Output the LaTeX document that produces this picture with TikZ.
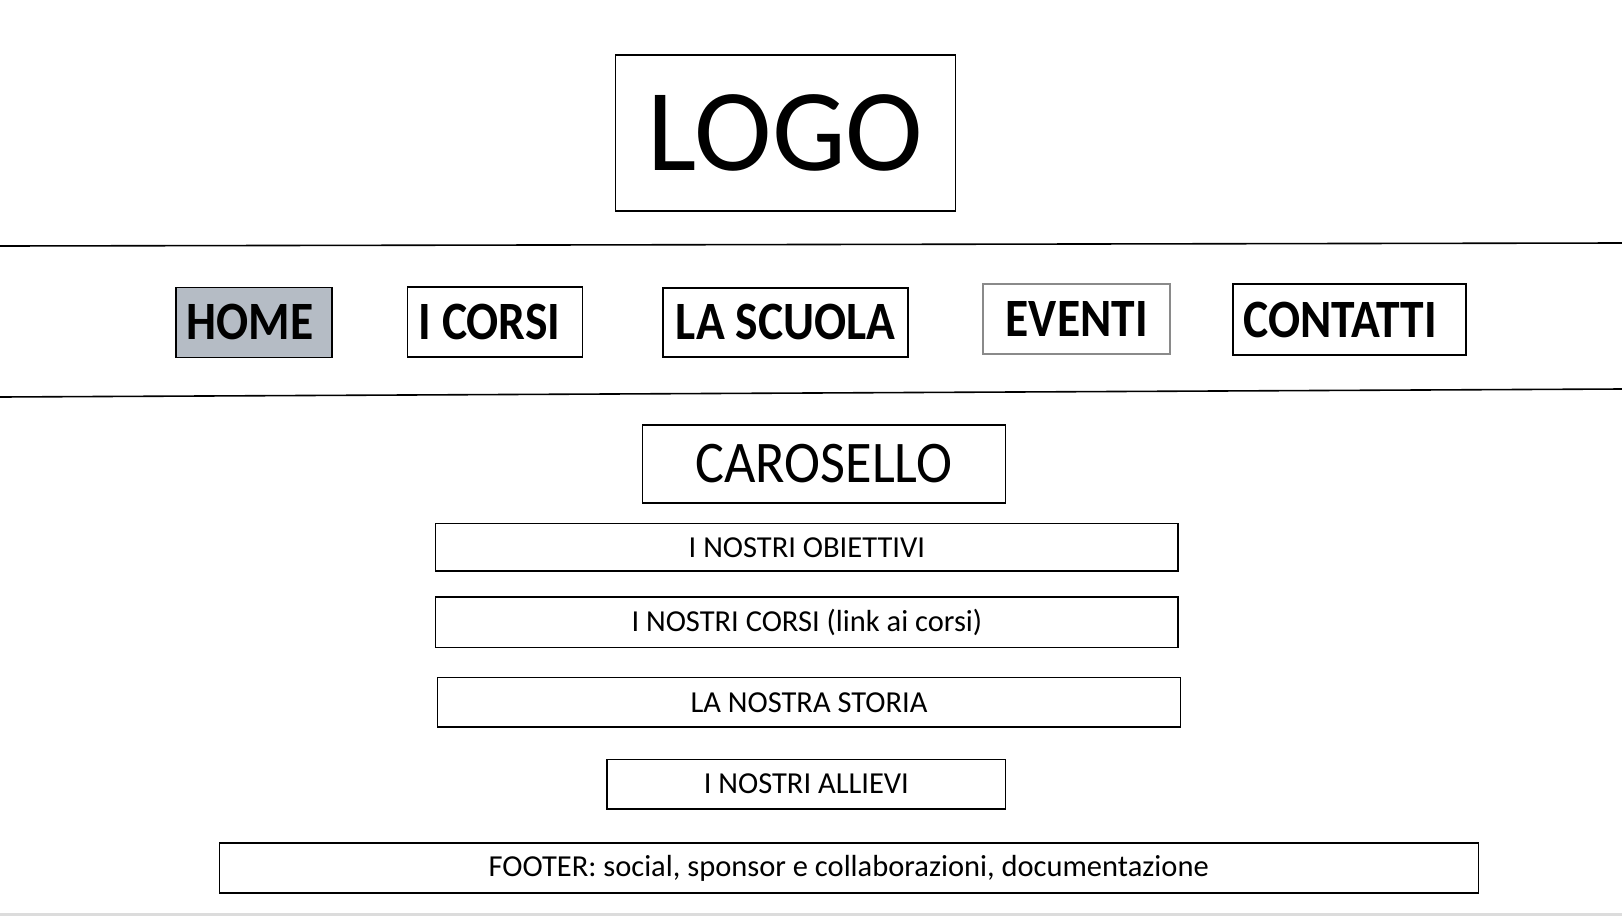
\documentclass[tikz,border=0pt]{standalone}
\usepackage{fontspec}
\setmainfont{Carlito}
\newfontfamily\navfont[FakeStretch=0.88]{Carlito}
\newfontfamily\carofont[FakeStretch=0.92]{Carlito}
\definecolor{homefill}{HTML}{B5BCC5}
\definecolor{evgray}{HTML}{8A8A8A}
\definecolor{strip}{HTML}{DCDCDC}
\begin{document}
\begin{tikzpicture}[x=1pt,y=-1pt,
  box/.style={draw=black, line width=1.6pt, inner sep=0pt, anchor=center, align=center},
  navtext/.style={font=\navfont\fontsize{54}{60}\selectfont\bfseries},
  smalltext/.style={font=\fontsize{30.5}{34}\selectfont}]
\useasboundingbox[fill=white] (0,0) rectangle (1622,916);
\fill[strip] (0,913) rectangle (1622,916);
% header lines
\coordinate (t1) at (0,246); \coordinate (t2) at (1622,243);
\coordinate (b1) at (0,397); \coordinate (b2) at (1622,389);
\draw[line width=1.6pt] (t1) -- (t2);
\draw[line width=1.6pt] (b1) -- (b2);
% logo
\node[box, minimum width=340pt, minimum height=156pt, font=\fontsize{117}{120}\selectfont] (logo) at (785.6,133) {LOGO};
% navigation
\node[box, navtext, fill=homefill, minimum width=156pt, minimum height=70pt] (home) at (253.9,322.3) {HOME\hspace{8pt}};
\node[box, navtext, minimum width=175pt, minimum height=70pt] (corsi) at (495,322) {I CORSI\hspace{11pt}};
\node[box, navtext, minimum width=245pt, minimum height=69pt] (scuola) at (785.6,322.2) {LA SCUOLA};
\node[box, navtext, draw=evgray, minimum width=187pt, minimum height=70pt] (eventi) at (1076.7,319.2) {EVENTI};
\node[box, navtext, minimum width=233pt, minimum height=71pt] (contatti) at (1349.7,319.7) {CONTATTI\hspace{19pt}};
% content
\node[box, font=\carofont\fontsize{59}{64}\selectfont, minimum width=363pt, minimum height=77.6pt] (carosello) at (823.9,463.9) {CAROSELLO};
\node[box, smalltext, minimum width=742.7pt, minimum height=47.6pt] (obiettivi) at (806.9,547.2) {I NOSTRI OBIETTIVI};
\node[box, smalltext, minimum width=742.7pt, minimum height=50.7pt] (ncorsi) at (806.9,622.2) {I NOSTRI CORSI (link ai corsi)};
\node[box, smalltext, minimum width=742.7pt, minimum height=49.7pt] (storia) at (809,702.4) {LA NOSTRA STORIA};
\node[box, smalltext, minimum width=398.3pt, minimum height=49.6pt] (allievi) at (806.4,784.1) {I NOSTRI ALLIEVI};
\node[box, smalltext, minimum width=1259pt, minimum height=49.7pt] (footer) at (848.8,867.9) {FOOTER: social, sponsor e collaborazioni, documentazione};
\end{tikzpicture}
\end{document}
